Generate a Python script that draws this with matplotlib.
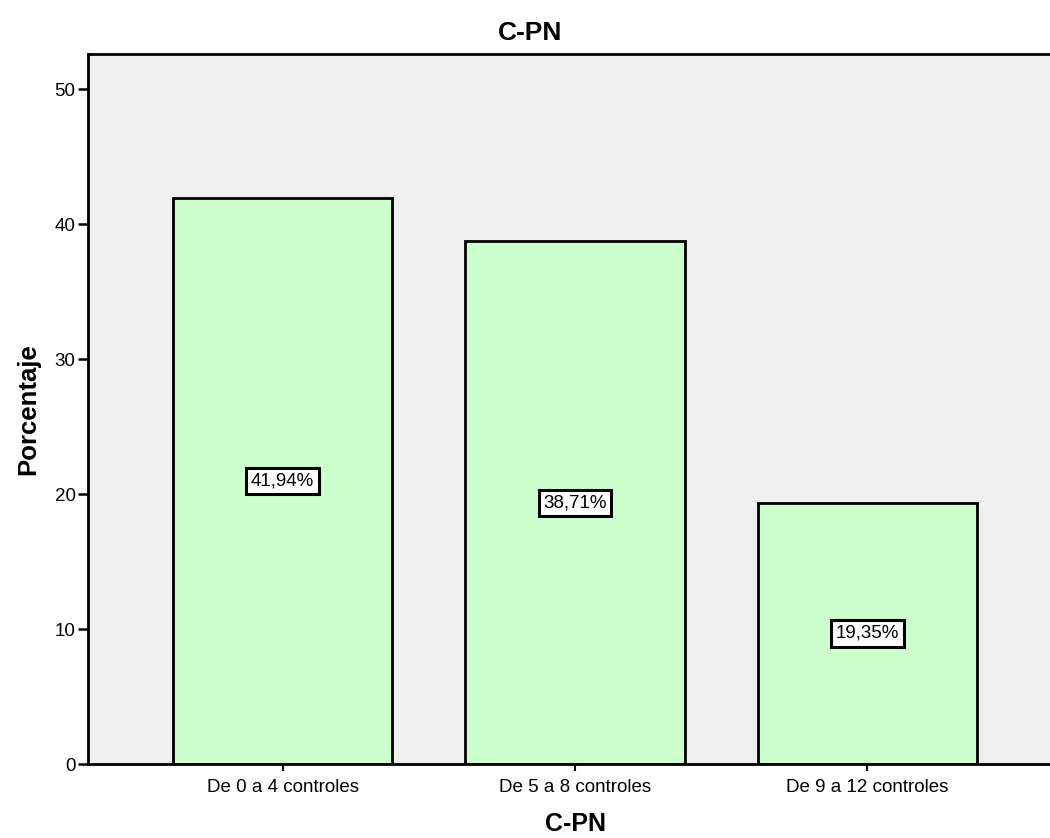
import matplotlib
matplotlib.use('Agg')
import matplotlib.pyplot as plt

categorias = ['De 0 a 4 controles', 'De 5 a 8 controles', 'De 9 a 12 controles']
porcentajes = [41.94, 38.71, 19.35]
etiquetas = ['41,94%', '38,71%', '19,35%']

plt.rcParams['font.family'] = ['Liberation Sans', 'DejaVu Sans']

fig = plt.figure(figsize=(10.5, 8.38), dpi=100)
ax = fig.add_axes([88 / 1050, 1 - 764 / 838, 1 - 88 / 1050, (764 - 54) / 838])
ax.set_facecolor('#f0f0f0')

x = list(range(len(categorias)))
ax.bar(x, porcentajes, width=0.75, color='#ccffcc', edgecolor='black', linewidth=2, zorder=2)

# etiquetas en el centro de cada barra
for xi, v, t in zip(x, porcentajes, etiquetas):
    ax.text(xi, v / 2, t, ha='center', va='center', fontsize=13.5, zorder=3,
            bbox=dict(boxstyle='square,pad=0.25', facecolor='white', edgecolor='black', linewidth=2.2))

ax.set_xlim(-0.665, 2.624)
ax.set_ylim(0, 52.6)
ax.set_yticks([0, 10, 20, 30, 40, 50])
ax.set_xticks(x)
ax.set_xticklabels(categorias)
ax.tick_params(axis='y', labelsize=13.5, length=7, width=1.8, pad=2)
ax.tick_params(axis='x', labelsize=13.5, length=5, width=1.5, pad=6)

for s in ['left', 'bottom', 'top']:
    ax.spines[s].set_linewidth(2)
ax.spines['right'].set_visible(False)

ax.set_ylabel('Porcentaje', fontsize=18.5, fontweight='bold', labelpad=10)
ax.set_xlabel('C-PN', fontsize=18, fontweight='bold', labelpad=11)
ax.xaxis.label.set_x((575 - 88) / 962)
fig.text(530 / 1050, 1 - 33 / 838, 'C-PN', ha='center', va='center', fontsize=19, fontweight='bold')

fig.savefig('out.png', dpi=100)
